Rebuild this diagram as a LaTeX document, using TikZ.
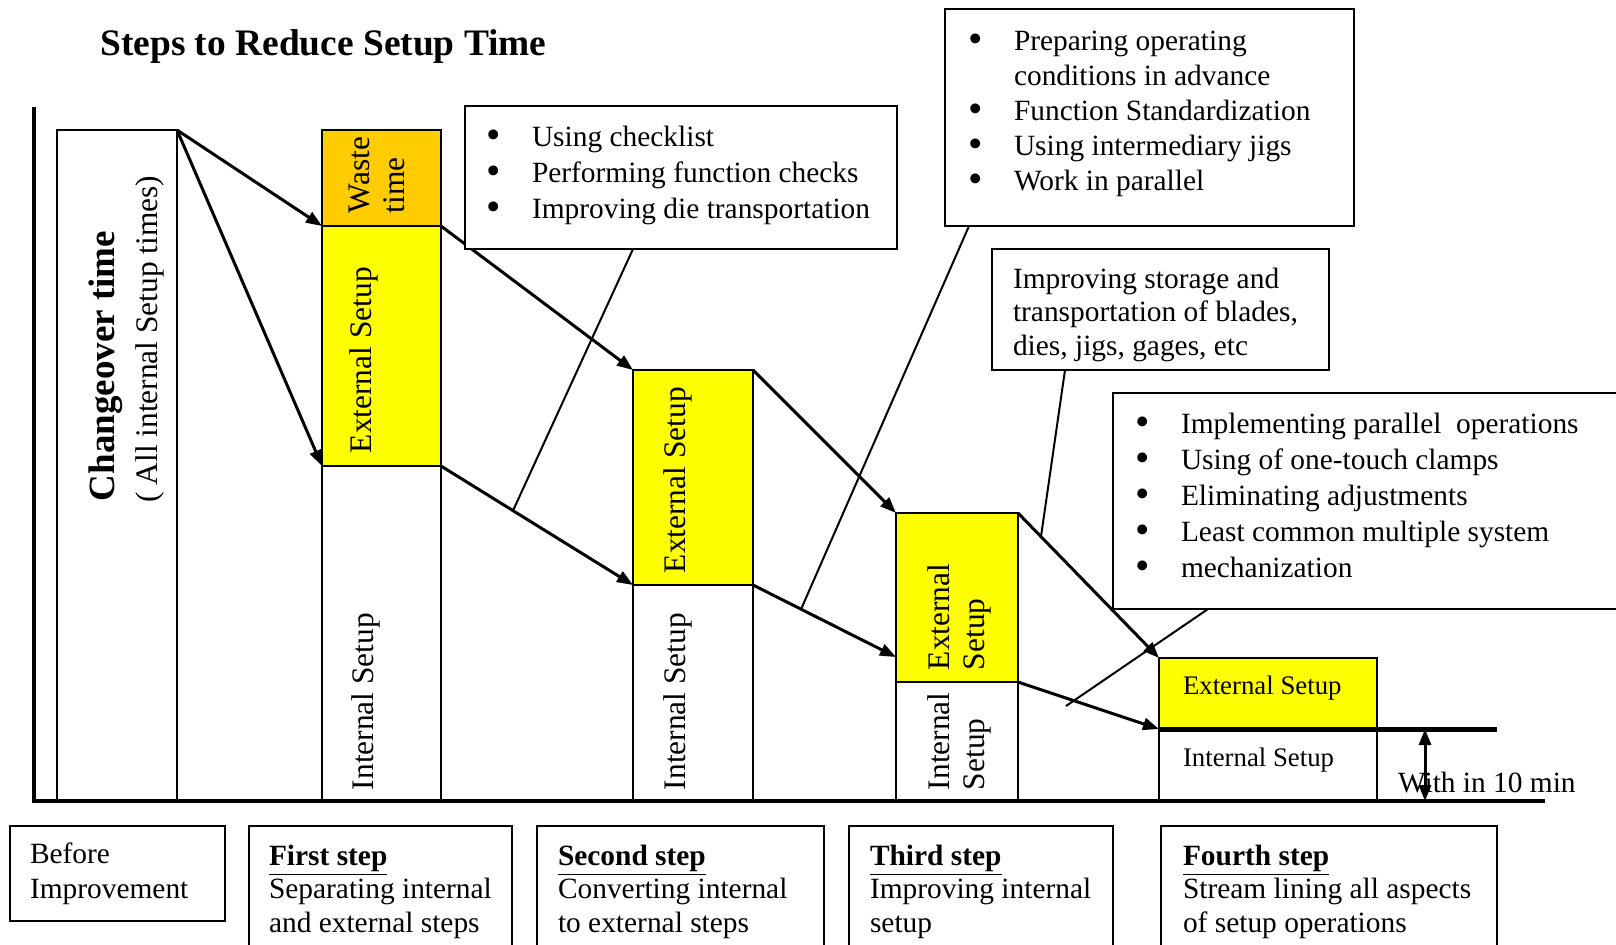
\documentclass[tikz,border=0pt]{standalone}
\usepackage{fontspec}
\setmainfont{Liberation Serif}
\usetikzlibrary{arrows.meta,calc}
\definecolor{wasteor}{HTML}{FFCC00}
\definecolor{extyel}{HTML}{FFFF00}
\newcommand\tstr{\rule{0pt}{12pt}}
\newcommand\bul{\makebox[23pt][l]{\raisebox{-1pt}{\scalebox{1.4}{\textbullet}}}}
\newcommand\bulind{\hspace*{23pt}}
\begin{document}
\begin{tikzpicture}[x=0.5pt,y=-0.5pt,
  col/.style={draw=black, line width=1pt, inner sep=0pt, outer sep=0pt, anchor=north west},
  tbox/.style={draw=black, line width=1pt, inner sep=0pt, outer sep=0pt, anchor=north west},
  txt/.style={inner sep=0pt, outer sep=0pt, font=\fontsize{14.7}{17.5}\selectfont, align=left},
  rtxt/.style={inner sep=0pt, outer sep=0pt, align=left, rotate=90, font=\fontsize{15.7}{17.5}\selectfont},
  arr/.style={-{Triangle[length=8pt,width=6pt]}, line width=1.5pt},
  dblarr/.style={{Triangle[length=8pt,width=6pt]}-{Triangle[length=8pt,width=6pt]}, line width=1.5pt},
  call/.style={line width=1pt},
]
\useasboundingbox (0,0) rectangle (1616,944);
\clip (0,0) rectangle (1616,944);

% title
\node[anchor=base west, inner sep=0pt, font=\fontsize{18.7}{22}\selectfont\bfseries] (title) at (100,55) {Steps to Reduce Setup Time};

% columns
\node[col, minimum width=60pt, minimum height=335.5pt] (b0) at (57,130) {};
\node[col, fill=wasteor, minimum width=59.5pt, minimum height=48pt] (w1) at (322,130) {};
\node[col, fill=extyel, minimum width=59.5pt, minimum height=120pt] (e1) at (322,226) {};
\node[col, minimum width=59.5pt, minimum height=167.5pt] (i1) at (322,466) {};
\node[col, fill=extyel, minimum width=60pt, minimum height=107.5pt] (e2) at (633,370) {};
\node[col, minimum width=60pt, minimum height=108pt] (i2) at (633,585) {};
\node[col, fill=extyel, minimum width=61pt, minimum height=84.5pt] (e3) at (896,513) {};
\node[col, minimum width=61pt, minimum height=59.5pt] (i3) at (896,682) {};
\node[col, fill=extyel, minimum width=109pt, minimum height=35.5pt] (e4) at (1159,658) {};
\node[col, minimum width=109pt, minimum height=36pt] (i4) at (1159,729) {};

% column texts
\node[rtxt, anchor=base west, font=\fontsize{18.5}{22}\selectfont\bfseries] (cot) at (114,501) {Changeover time};
\node[rtxt, anchor=base west] (cos) at (157,502) {(\hspace{0.2em}All internal Setup times)};
\node[rtxt, anchor=south west] (wt) at (405,213) {Waste\\time};
\node[rtxt, anchor=base west] (e1t) at (371,453) {External Setup};
\node[rtxt, anchor=base west] (i1t) at (373,790) {Internal Setup};
\node[rtxt, anchor=base west] (e2t) at (685,573) {External Setup};
\node[rtxt, anchor=base west] (i2t) at (685,790) {Internal Setup};
\node[rtxt, anchor=south west] (e3t) at (991,670) {External\\Setup};
\node[rtxt, anchor=south west] (i3t) at (991,790) {Internal\\Setup};
\node[txt, anchor=base west, font=\fontsize{13.4}{16}\selectfont] (e4t) at (1183,694) {External Setup};
\node[txt, anchor=base west, font=\fontsize{13.4}{16}\selectfont] (i4t) at (1183,766) {Internal Setup};
\node[txt, anchor=base west] (w10) at (1398,792) {With in 10 min};

% arrows
\draw[arr] (b0.north east) -- (w1.south west);
\draw[arr] (b0.north east) -- (e1.south west);
\draw[arr] (e1.north east) -- (e2.north west);
\draw[arr] (e1.south east) -- (e2.south west);
\draw[arr] (e2.north east) -- (e3.north west);
\coordinate (e3in) at ($(e3.south west)+(0,-25)$);
\draw[arr] (e2.south east) -- (e3in);
\draw[arr] (e3.north east) -- (e4.north west);
\draw[arr] (e3.south east) -- (e4.south west);

% axes
\coordinate (axtop) at (34,107);
\coordinate (axorg) at (34,801);
\coordinate (axend) at (1545,801);
\draw[line width=2.2pt] (axtop) -- (axorg) -- (axend);
\coordinate (tlend) at (1497,729);
\draw[line width=2.5pt] (e4.south west) -- (tlend);
\coordinate (da1) at (1425,729);
\coordinate (da2) at (1425,801);
\draw[dblarr] (da1) -- (da2);

% text boxes
\node[tbox, fill=white, minimum width=216pt, minimum height=71.5pt] (tb1) at (465,106) {};
\node[tbox, fill=white, minimum width=204.5pt, minimum height=108.5pt] (tb2) at (945,9) {};
\node[tbox, fill=white, minimum width=168.5pt, minimum height=60.5pt] (tb3) at (992,249) {};
\node[tbox, fill=white, minimum width=263.5pt, minimum height=108pt] (tb4) at (1113,393) {};

\node[txt, anchor=north west, font=\fontsize{14.7}{18}\selectfont] (tb1t) at (486,122)
  {\tstr\bul Using checklist\\\bul Performing function checks\\\bul Improving die transportation};
\node[txt, anchor=north west, font=\fontsize{14.7}{17.6}\selectfont] (tb2t) at (968,26)
  {\tstr\bul Preparing operating\\\bulind conditions in advance\\\bul Function Standardization\\\bul Using intermediary jigs\\\bul Work in parallel};
\node[txt, anchor=north west, font=\fontsize{14.7}{16.75}\selectfont] (tb3t) at (1013,264)
  {\tstr Improving storage and\\transportation of blades,\\dies, jigs, gages, etc};
\node[txt, anchor=north west, font=\fontsize{14.7}{18}\selectfont] (tb4t) at (1135,409)
  {\tstr\bul Implementing parallel\ \ operations\\\bul Using of one-touch clamps\\\bul Eliminating adjustments\\\bul Least common multiple system\\\bul mechanization};

% callout lines
\coordinate (c1) at ($(e1.south east)!0.375!(e2.south west)$);
\coordinate (c2) at ($(e2.south east)!0.336!(e3in)$);
\coordinate (c3) at ($(e3.north east)!0.163!(e4.north west)$);
\coordinate (c4) at (1066,706);
\draw[call] ($(tb1.south west)+(168,0)$) -- (c1);
\draw[call] ($(tb2.south west)+(24,0)$) -- (c2);
\draw[call] ($(tb3.south west)+(73,0)$) -- (c3);
\draw[call] ($(tb4.south west)+(95,0)$) -- (c4);

% bottom boxes
\node[tbox, minimum width=107.5pt, minimum height=47.5pt] (bb0) at (10,826) {};
\node[tbox, minimum width=131.5pt, minimum height=65pt] (bb1) at (249,826) {};
\node[tbox, minimum width=143.5pt, minimum height=65pt] (bb2) at (537,826) {};
\node[tbox, minimum width=132pt, minimum height=65pt] (bb3) at (849,826) {};
\node[tbox, minimum width=168pt, minimum height=65pt] (bb4) at (1161,826) {};

\node[txt, anchor=north west] (bb0t) at (30,839) {\tstr Before\\Improvement};
\node[txt, anchor=north west, font=\fontsize{14.7}{16.75}\selectfont] (bb1t) at (269,841)
  {\tstr\textbf{\underline{First step}}\\Separating internal\\and external steps};
\node[txt, anchor=north west, font=\fontsize{14.7}{16.75}\selectfont] (bb2t) at (558,841)
  {\tstr\textbf{\underline{Second step}}\\Converting internal\\to external steps};
\node[txt, anchor=north west, font=\fontsize{14.7}{16.75}\selectfont] (bb3t) at (870,841)
  {\tstr\textbf{\underline{Third step}}\\Improving internal\\setup};
\node[txt, anchor=north west, font=\fontsize{14.7}{16.75}\selectfont] (bb4t) at (1183,841)
  {\tstr\textbf{\underline{Fourth step}}\\Stream lining all aspects\\of setup operations};
\end{tikzpicture}
\end{document}
